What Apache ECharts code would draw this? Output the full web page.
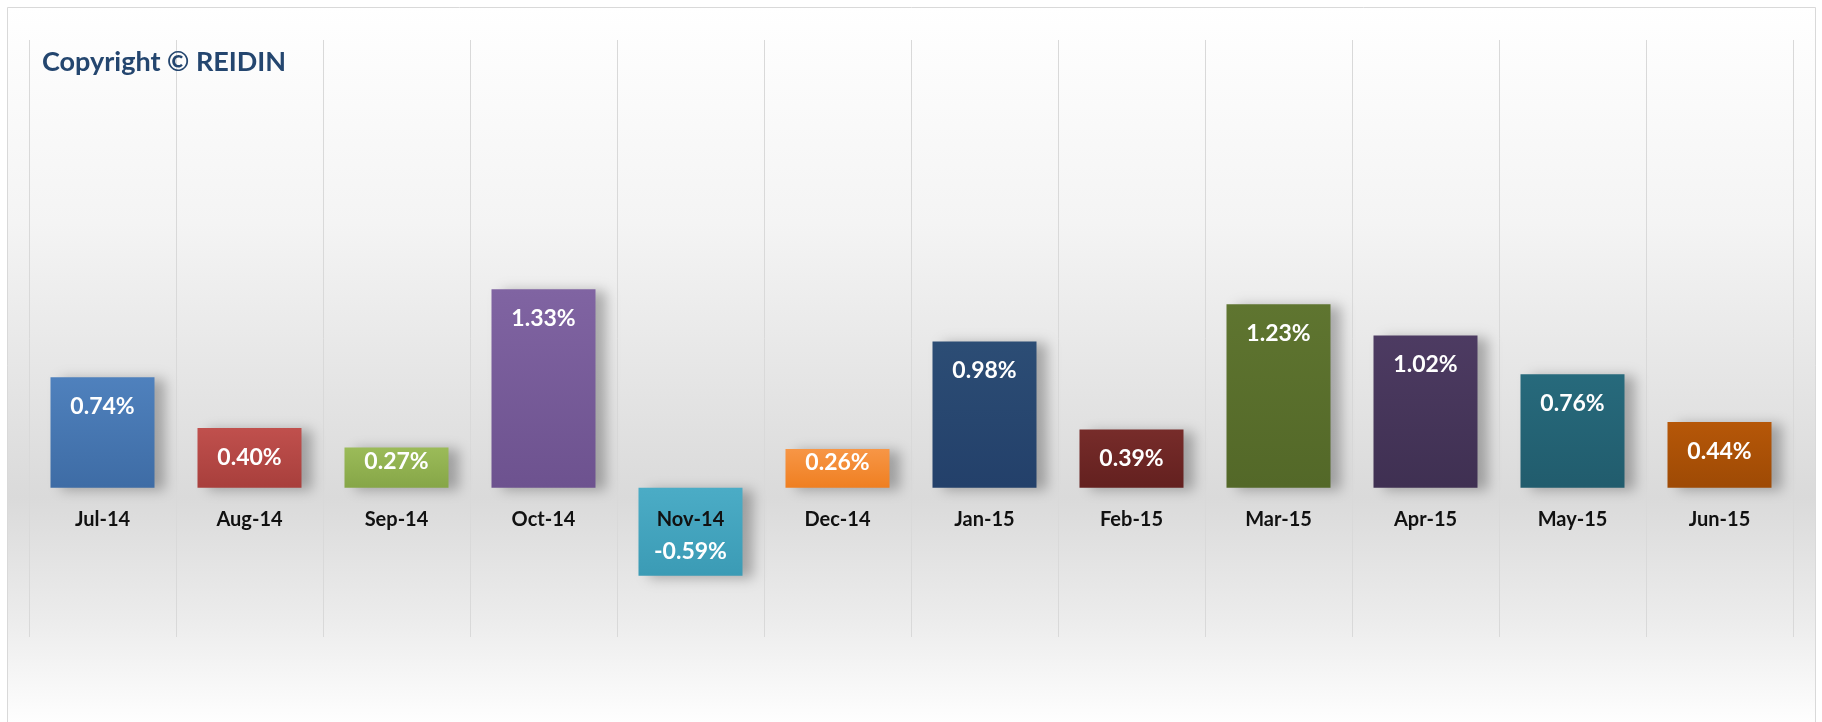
<!DOCTYPE html>
<html>
<head>
<meta charset="utf-8">
<script src="https://cdn.jsdelivr.net/npm/echarts@6/dist/echarts.min.js"></script>
<style>
    html, body {margin: 0; padding: 0; background: #ffffff;}
    #main {width: 1822px; height: 722px;}
</style>
</head>
<body>
<div id="main"></div>
<script>
var meses = ['Jul-14', 'Aug-14', 'Sep-14', 'Oct-14', 'Nov-14', 'Dec-14', 'Jan-15', 'Feb-15', 'Mar-15', 'Apr-15', 'May-15', 'Jun-15'];
var valores = [0.74, 0.40, 0.27, 1.33, -0.59, 0.26, 0.98, 0.39, 1.23, 1.02, 0.76, 0.44];
var coloresArriba = ['#4f81bd', '#c0504d', '#9bbb59', '#8064a2', '#4bacc6', '#f79646', '#2c4d75', '#772c2a', '#5f7530', '#4d3b62', '#276a7c', '#b65708'];
var coloresAbajo = ['#3e6ca5', '#a83f3c', '#86a647', '#6d528f', '#3b9bb5', '#ef7f21', '#23406a', '#63201f', '#536828', '#3f3052', '#215c6d', '#9e4a05'];

var fuente = 'Lato, "Open Sans", sans-serif';

var datos = [];
var ceros = [];
for (var i = 0; i < valores.length; i++) {
    var v = valores[i];
    var lbl = {position: 'insideTop', distance: 18};
    if (v < 0) {
        lbl = {position: 'insideBottom', distance: 13};
    } else if (v < 0.3) {
        lbl = {position: 'inside', offset: [0, -6]};
    }
    datos.push({
        value: v,
        itemStyle: {
            color: new echarts.graphic.LinearGradient(0, 0, 0, 1, [
                {offset: 0, color: coloresArriba[i]},
                {offset: 1, color: coloresAbajo[i]}
            ])
        },
        label: lbl
    });
    // etiqueta del mes sobre la linea de cero
    ceros.push([meses[i], 0]);
}

var myChart = echarts.init(document.getElementById('main'));
myChart.setOption({
    animation: false,
    graphic: [{
        type: 'rect',
        z: -10,
        shape: {x: 7.5, y: 7.5, width: 1808, height: 720},
        style: {
            stroke: '#d9d9d9',
            lineWidth: 1,
            fill: new echarts.graphic.LinearGradient(0, 0, 0, 1, [
                {offset: 0, color: '#ffffff'},
                {offset: 0.3, color: '#f4f4f4'},
                {offset: 0.68, color: '#dadada'},
                {offset: 0.85, color: '#ececec'},
                {offset: 1, color: '#ffffff'}
            ])
        }
    }],
    title: {
        text: 'Copyright © REIDIN',
        left: 37,
        top: 44,
        textStyle: {
            fontFamily: fuente,
            fontSize: 27,
            fontWeight: 'bold',
            color: '#24466f'
        }
    },
    grid: {left: 29, right: 29, top: 40, bottom: 85},
    xAxis: {
        type: 'category',
        data: meses,
        axisLine: {show: false},
        axisTick: {show: false},
        axisLabel: {show: false},
        splitLine: {show: true, lineStyle: {color: '#d9d9d9', width: 1}}
    },
    yAxis: {
        type: 'value',
        min: -1,
        max: 3,
        interval: 1,
        axisLine: {show: false},
        axisTick: {show: false},
        axisLabel: {show: false},
        splitLine: {show: false}
    },
    series: [{
        type: 'bar',
        barWidth: 104,
        data: datos,
        itemStyle: {
            shadowColor: 'rgba(0,0,0,0.28)',
            shadowBlur: 12,
            shadowOffsetX: 10,
            shadowOffsetY: 2
        },
        label: {
            show: true,
            color: '#ffffff',
            fontFamily: fuente,
            fontSize: 23,
            fontWeight: 'bold',
            formatter: function (p) {
                return p.value.toFixed(2) + '%';
            }
        }
    }, {
        type: 'scatter',
        data: ceros,
        symbolSize: 0,
        z: 5,
        silent: true,
        itemStyle: {opacity: 1},
        label: {
            show: true,
            position: 'bottom',
            distance: 22,
            fontFamily: fuente,
            fontSize: 20,
            fontWeight: 'bold',
            color: '#111111',
            opacity: 1,
            formatter: function (p) {
                return p.value[0];
            }
        }
    }]
});
</script>
</body>
</html>
